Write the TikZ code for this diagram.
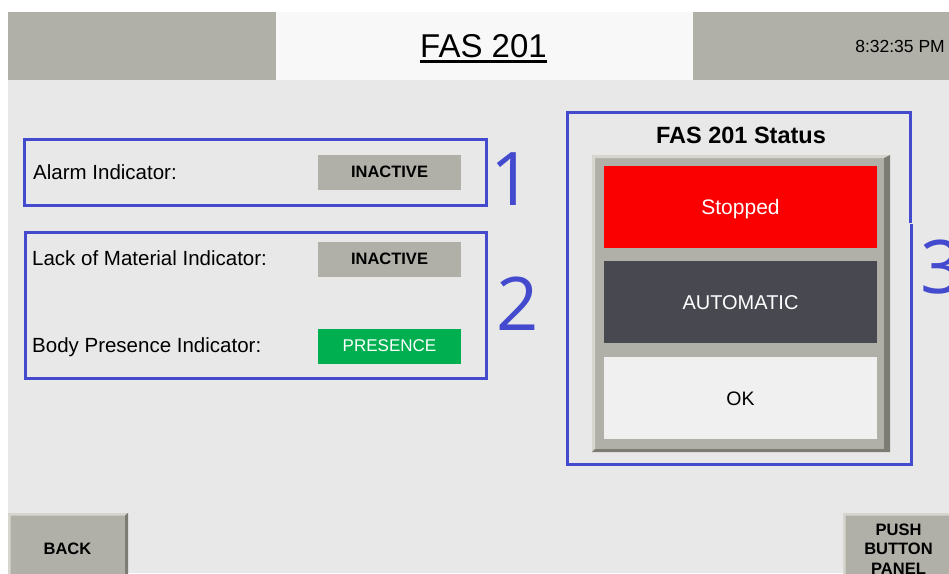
\documentclass[tikz,border=0pt]{standalone}
\usepackage{fontspec}
\setmainfont{Liberation Sans}
\newfontfamily\numfont{Open Sans}
\definecolor{bgc}{RGB}{232,232,232}
\definecolor{hdrgray}{RGB}{176,176,168}
\definecolor{hdrwhite}{RGB}{248,248,248}
\definecolor{markblue}{RGB}{68,74,206}
\definecolor{btngray}{RGB}{176,176,168}
\definecolor{btnlight}{RGB}{214,214,206}
\definecolor{btndark}{RGB}{124,124,116}
\definecolor{presgreen}{RGB}{0,176,80}
\definecolor{stopred}{RGB}{250,0,0}
\definecolor{autodark}{RGB}{72,72,80}
\definecolor{okwhite}{RGB}{240,240,240}
\tikzset{
  lbl/.style={font=\fontsize{20.5}{24}\selectfont, inner sep=0pt, anchor=base west, text=black},
  indbtn/.style={fill=btngray, minimum width=143pt, minimum height=35pt, inner sep=0pt,
     text height=11.8pt, text depth=0pt, font=\fontsize{16.5}{20}\selectfont\bfseries},
  statbtn/.style={minimum width=273pt, minimum height=82pt, inner sep=0pt, text depth=0pt},
  markbox/.style={draw=markblue, line width=3pt},
  marknum/.style={font=\fontsize{74}{80}\selectfont\numfont, text=markblue, inner sep=0pt},
  navtxt/.style={font=\fontsize{16.5}{19}\selectfont\bfseries, inner sep=0pt, anchor=base},
}
\begin{document}
\begin{tikzpicture}[x=1pt,y=-1pt]
\useasboundingbox (0,0) rectangle (949,573);
\clip (0,0) rectangle (949,573);
\fill[white] (0,0) rectangle (949,573);
\fill[bgc] (8,80) rectangle (949,573);
% header
\fill[hdrgray] (8,12) rectangle (276,80);
\fill[hdrwhite] (276,12) rectangle (693,80);
\fill[hdrgray] (693,12) rectangle (949,80);
\node[font=\fontsize{33}{36}\selectfont, inner sep=0pt, anchor=base] (title) at (483.5,57) {FAS 201};
\draw[line width=2.5pt] ([yshift=-4.5pt]title.base west) -- ([yshift=-4.5pt]title.base east);
\node[font=\fontsize{17.5}{20}\selectfont, inner sep=0pt, anchor=base east] (clock) at (945,52.5) {8:32:35 PM};
% box 1
\draw[markbox] (24,139) rectangle (486,205);
\node[lbl] (alarm) at (33,179) {Alarm Indicator:};
\node[indbtn] (inact1) at (389.5,172) {INACTIVE};
\node[marknum, anchor=base] (n1) at (512,205) {1};
% box 2
\draw[markbox] (25,232) rectangle (486,378);
\node[lbl] (lack) at (32,265.5) {Lack of Material Indicator:};
\node[indbtn] (inact2) at (389.5,259) {INACTIVE};
\node[lbl] (body) at (32,352.5) {Body Presence Indicator:};
\node[indbtn, fill=presgreen, text=white, font=\fontsize{17}{20}\selectfont] (pres) at (389.5,346) {PRESENCE};
\node[marknum, anchor=base] (n2) at (518,330) {2};
% box 3
\draw[markbox] (910,223) -- (910,112) -- (567,112) -- (567,464) -- (911,464) -- (911,224);
\node[font=\fontsize{23.5}{26}\selectfont\bfseries, inner sep=0pt, anchor=base] (stitle) at (741,143.3) {FAS 201 Status};
% bevel frame
\fill[btngray] (592,155) rectangle (890,452);
\fill[btnlight] (592,155) -- (890,155) -- (886,158) -- (595,158) -- (595,449) -- (592,452) -- cycle;
\fill[btndark] (890,155) -- (890,452) -- (592,452) -- (595,449) -- (884,449) -- (884,158) -- cycle;
\node[statbtn, fill=stopred, text=white, text height=15pt, font=\fontsize{21}{24}\selectfont] (stopped) at (740.5,207) {Stopped};
\node[statbtn, fill=autodark, text=white, text height=14.3pt, font=\fontsize{20}{24}\selectfont] (auto) at (740.5,302) {AUTOMATIC};
\node[statbtn, fill=okwhite, text=black, text height=14pt, font=\fontsize{19.5}{24}\selectfont] (ok) at (740.5,398) {OK};
\node[marknum, anchor=base west] (n3) at (920,293) {3};
% bottom buttons
\fill[btngray] (8,513) rectangle (128,580);
\fill[btnlight] (8,513) -- (128,513) -- (125,515.5) -- (10.5,515.5) -- (10.5,580) -- (8,580) -- cycle;
\fill[btndark] (128,513) -- (128,580) -- (125,580) -- (125,515.5) -- cycle;
\node[navtxt] (back) at (67.5,554) {BACK};
\fill[btngray] (843,513) rectangle (960,580);
\fill[btnlight] (843,513) -- (960,513) -- (960,515.5) -- (845.5,515.5) -- (845.5,580) -- (843,580) -- cycle;
\node[navtxt] (push) at (898.5,535) {PUSH};
\node[navtxt] (button) at (898.5,554.5) {BUTTON};
\node[navtxt] (panel) at (898.5,574) {PANEL};
\end{tikzpicture}
\end{document}
